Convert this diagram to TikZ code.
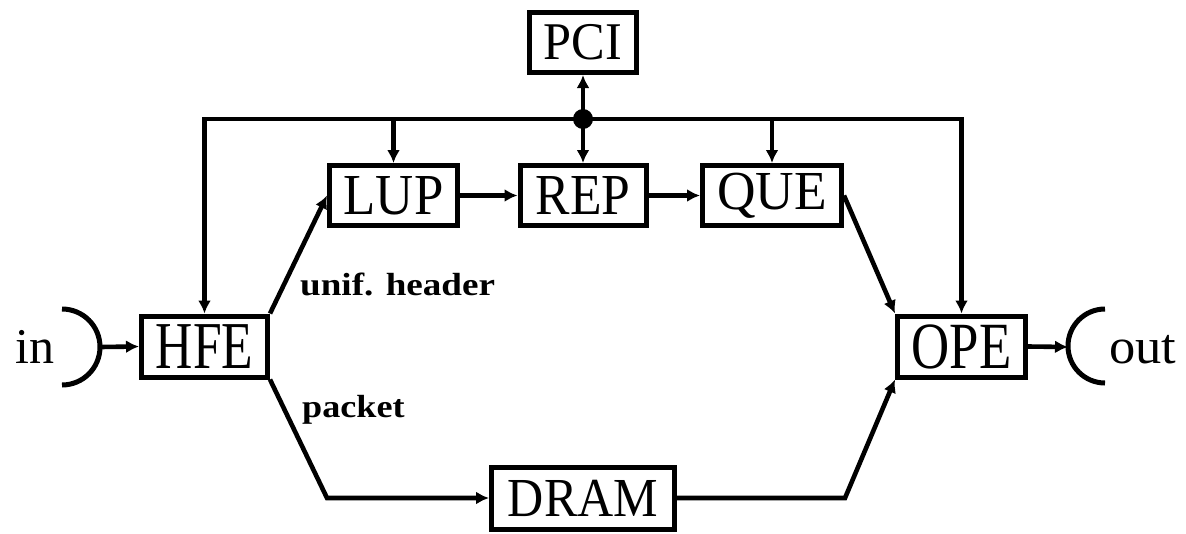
\documentclass[tikz,border=0pt]{standalone}
\usepackage{fontspec}
\usepackage{graphicx}
\setmainfont{Liberation Serif}
\usetikzlibrary{arrows.meta}
% horizontally squeezed / stretched text
\newcommand\hsq[2]{\scalebox{#1}[1]{#2}}
\newcommand\fsz[1]{\fontsize{#1}{#1}\selectfont}
\begin{document}
\begin{tikzpicture}[x=1pt,y=-1pt,
  blk/.style={draw, line width=5pt, minimum height=60pt, inner sep=0pt},
  wire/.style={line width=4.6pt},
  arr/.style={wire, -{Latex[length=13pt,width=13pt]}},
  lbl/.style={font=\bfseries\fsz{32}, anchor=base west, inner sep=0pt},
  port/.style={font=\fsz{50}, anchor=base west, inner sep=0pt},
  junction/.style={circle, fill, inner sep=0pt, minimum size=20pt}]
\useasboundingbox (0,0) rectangle (1186,533);

% blocks
\node[blk, minimum width=107pt, font=\fsz{53}] (pci) at (583,42.5) {\hsq{0.95}{PCI}};
\node[blk, minimum width=128pt, font=\fsz{58}] (lup) at (393.5,195.5) {\hsq{0.91}{LUP}};
\node[blk, minimum width=126pt, font=\fsz{58}] (rep) at (583,195.5) {\hsq{0.89}{REP}};
\node[blk, minimum width=139pt, font=\fsz{55}] (que) at (772,195.5) {\hsq{0.97}{QUE}};
\node[blk, minimum width=126pt, minimum height=61pt, font=\fsz{67}] (hfe) at (204.5,346.5) {\raisebox{-5pt}{\hsq{0.77}{HFE}}};
\node[blk, minimum width=128pt, minimum height=61pt, font=\fsz{66}] (ope) at (961.5,346.5) {\raisebox{-5pt}{\hsq{0.8}{OPE}}};
\node[blk, minimum width=183pt, minimum height=62pt, font=\fsz{55}] (dram) at (583,498) {\hsq{0.91}{DRAM}};

% bus and its taps
\coordinate (hubpt) at (583,119);
\draw[arr] (hubpt) -| (hfe.north);
\draw[arr] (hubpt) -| (ope.north);
\draw[arr] (lup.north |- hubpt) -- (lup.north);
\draw[arr] (que.north |- hubpt) -- (que.north);
\draw[arr] (hubpt) -- (pci.south);
\draw[arr] (hubpt) -- (rep.north);
\node[junction] (hub) at (hubpt) {};

% header path
\draw[arr] (hfe.north east) -- (lup.west);
\draw[arr] (lup) -- (rep);
\draw[arr] (rep) -- (que);
\draw[arr] (que.east) -- (ope.north west);

% packet path
\coordinate (dl) at (327,498);
\coordinate (dr) at (845,498);
\draw[arr] (hfe.south east) -- (dl) -- (dram.west);
\draw[arr] (dram.east) -- (dr) -- (ope.south west);

% ports
\coordinate (inport) at (100,347);
\coordinate (outport) at (1068,347);
\draw[wire, line width=5pt] (62,309) arc[start angle=90, end angle=-90, radius=38pt];
\draw[wire, line width=5pt] (1105,309) arc[start angle=90, end angle=270, radius=37pt];
\draw[arr] (inport) -- (hfe.west);
\draw[arr] (ope.east) -- (outport);

% labels
\node[port] (inlbl) at (15,363) {in};
\node[port] (outlbl) at (1109,363) {\hsq{1.05}{out}};
\node[lbl] (hdr) at (300,295) {\hsq{1.16}{unif. header}};
\node[lbl] (pkt) at (302,417) {\hsq{1.13}{packet}};
\end{tikzpicture}
\end{document}
